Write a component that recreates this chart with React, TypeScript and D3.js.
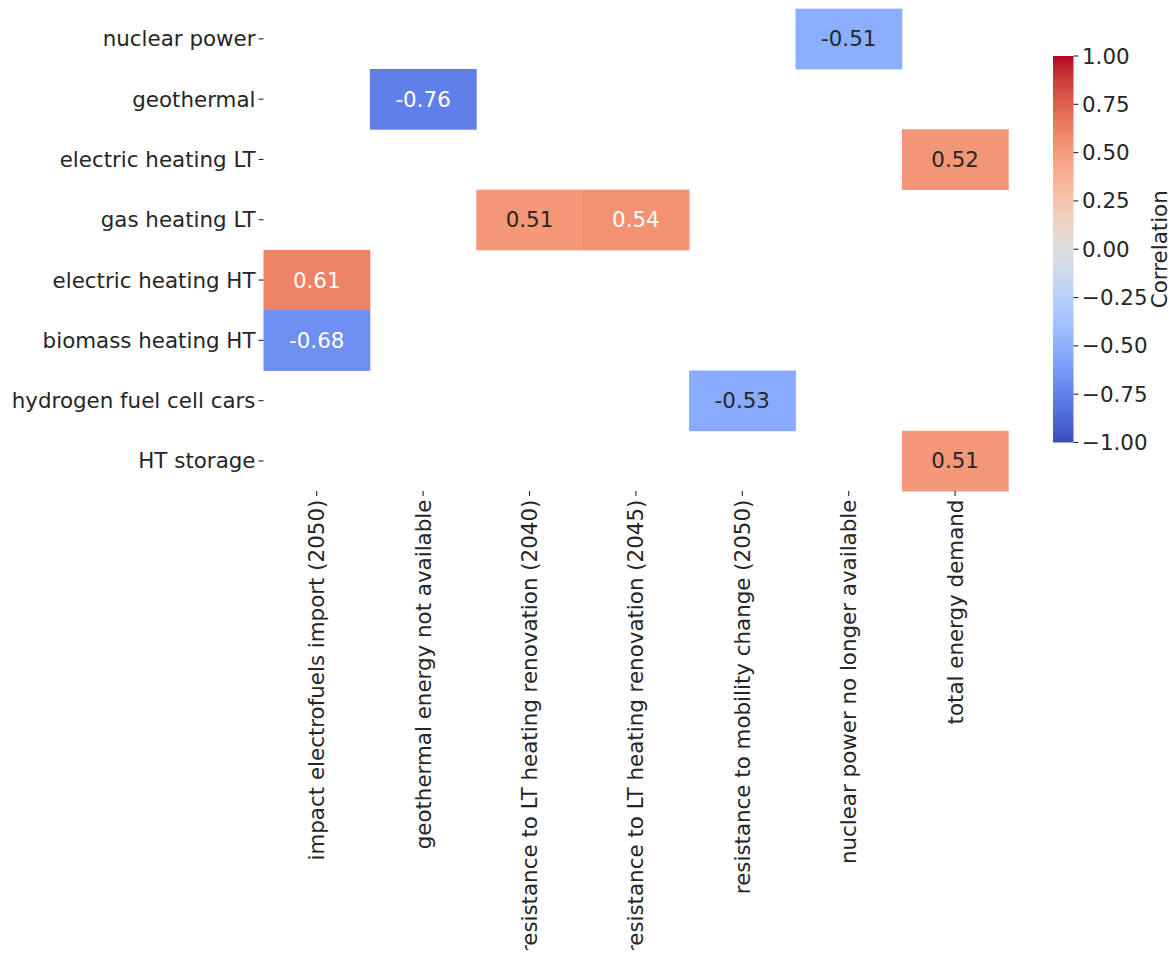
import React from "react";
import * as d3 from "d3";

// Row (y) and column (x) categories of the correlation matrix
const rowLabels = [
  "nuclear power",
  "geothermal",
  "electric heating LT",
  "gas heating LT",
  "electric heating HT",
  "biomass heating HT",
  "hydrogen fuel cell cars",
  "HT storage",
];

const colLabels = [
  "impact electrofuels import (2050)",
  "geothermal energy not available",
  "resistance to LT heating renovation (2040)",
  "resistance to LT heating renovation (2045)",
  "resistance to mobility change (2050)",
  "nuclear power no longer available",
  "total energy demand",
];

// Only strong correlations are shown; the rest of the matrix is empty
const cellRows = [
  "nuclear power",
  "geothermal",
  "electric heating LT",
  "gas heating LT",
  "gas heating LT",
  "electric heating HT",
  "biomass heating HT",
  "hydrogen fuel cell cars",
  "HT storage",
];
const cellCols = [
  "nuclear power no longer available",
  "geothermal energy not available",
  "total energy demand",
  "resistance to LT heating renovation (2040)",
  "resistance to LT heating renovation (2045)",
  "impact electrofuels import (2050)",
  "impact electrofuels import (2050)",
  "resistance to mobility change (2050)",
  "total energy demand",
];
const cellValues = [-0.51, -0.76, 0.52, 0.51, 0.54, 0.61, -0.68, -0.53, 0.51];

const colorbarTicks = [-1, -0.75, -0.5, -0.25, 0, 0.25, 0.5, 0.75, 1];

// Moreland cool-warm diverging map, 33 anchors
const coolwarmAnchors: [number, number, number][] = [
  [59, 76, 192], [68, 90, 204], [77, 104, 215], [87, 117, 225],
  [98, 130, 234], [108, 142, 241], [119, 154, 247], [130, 165, 251],
  [141, 176, 254], [152, 185, 255], [163, 194, 255], [174, 201, 253],
  [184, 208, 249], [194, 213, 244], [204, 217, 238], [213, 219, 230],
  [221, 221, 221], [229, 216, 209], [236, 211, 197], [241, 204, 185],
  [245, 196, 173], [247, 187, 160], [247, 177, 148], [247, 166, 135],
  [244, 154, 123], [241, 141, 111], [236, 127, 99], [229, 112, 88],
  [222, 96, 77], [213, 80, 66], [203, 62, 56], [192, 40, 47],
  [180, 4, 38],
];

function coolwarm(t: number): [number, number, number] {
  const n = coolwarmAnchors.length - 1;
  const x = Math.max(0, Math.min(1, t)) * n;
  const i = Math.min(n - 1, Math.floor(x));
  const f = x - i;
  const a = coolwarmAnchors[i];
  const b = coolwarmAnchors[i + 1];
  return [0, 1, 2].map((k) => a[k] + (b[k] - a[k]) * f) as [number, number, number];
}

const rgbStr = (c: [number, number, number]) =>
  d3.rgb(c[0], c[1], c[2]).formatHex();

function luminance(c: [number, number, number]) {
  const lin = c.map((v) => {
    const s = v / 255;
    return s <= 0.03928 ? s / 12.92 : Math.pow((s + 0.055) / 1.055, 2.4);
  });
  return 0.2126 * lin[0] + 0.7152 * lin[1] + 0.0722 * lin[2];
}

const FONT = "'DejaVu Sans', sans-serif";
const FS = 21.4;

export default function App() {
  const width = 1176;
  const height = 958;
  const left = 263.5;
  const top = 8.7;
  const cellW = 106.4;
  const cellH = 60.3;

  const x = d3
    .scaleBand<string>()
    .domain(colLabels)
    .range([left, left + cellW * colLabels.length]);
  const y = d3
    .scaleBand<string>()
    .domain(rowLabels)
    .range([top, top + cellH * rowLabels.length]);
  const norm = d3.scaleLinear().domain([-1, 1]).range([0, 1]);

  const bottom = top + cellH * rowLabels.length;

  // Colour bar geometry
  const cbX = 1053;
  const cbW = 20.5;
  const cbTop = 56;
  const cbBottom = 442.5;
  const cbScale = d3.scaleLinear().domain([-1, 1]).range([cbBottom, cbTop]);
  const gradStops = d3.range(0, 1.0001, 1 / 64);

  const fmtTick = (v: number) => {
    const s = Math.abs(v).toFixed(2);
    return v < 0 ? "\u2212" + s : s;
  };

  return (
    <svg width={width} height={height} style={{ display: "block", margin: "-8px" }}
      viewBox={`0 0 ${width} ${height}`}>
      <rect width={width} height={height} fill="#ffffff" />
      <defs>
        <linearGradient id="cbGrad" x1="0" y1="1" x2="0" y2="0">
          {gradStops.map((t, i) => (
            <stop key={i} offset={t} stopColor={rgbStr(coolwarm(t))} />
          ))}
        </linearGradient>
      </defs>

      {/* heatmap cells */}
      <g>
        {cellValues.map((v, i) => {
          const c = coolwarm(norm(v));
          const textColor = luminance(c) > 0.408 ? "#262626" : "#ffffff";
          const cx = (x(cellCols[i]) as number) + x.bandwidth() / 2;
          const cy = (y(cellRows[i]) as number) + y.bandwidth() / 2;
          return (
            <g key={i}>
              <rect
                x={x(cellCols[i])}
                y={y(cellRows[i])}
                width={x.bandwidth() + 0.4}
                height={y.bandwidth() + 0.4}
                fill={rgbStr(c)}
              />
              <text
                x={cx}
                y={cy}
                textAnchor="middle"
                dominantBaseline="central"
                fontFamily={FONT}
                fontSize={FS}
                fill={textColor}
              >
                {v.toFixed(2)}
              </text>
            </g>
          );
        })}
      </g>

      {/* y axis */}
      <g>
        {rowLabels.map((r) => {
          const cy = (y(r) as number) + y.bandwidth() / 2;
          return (
            <g key={r}>
              <line x1={left - 4.9} x2={left} y1={cy} y2={cy} stroke="#262626" strokeWidth={1.1} />
              <text
                x={left - 8}
                y={cy}
                textAnchor="end"
                dominantBaseline="central"
                fontFamily={FONT}
                fontSize={FS}
                fill="#262626"
              >
                {r}
              </text>
            </g>
          );
        })}
      </g>

      {/* x axis */}
      <g>
        {colLabels.map((c) => {
          const cx = (x(c) as number) + x.bandwidth() / 2;
          return (
            <g key={c}>
              <line x1={cx} x2={cx} y1={bottom} y2={bottom + 4.9} stroke="#262626" strokeWidth={1.1} />
              <text
                transform={`translate(${cx},${bottom + 8.5}) rotate(-90)`}
                textAnchor="end"
                dominantBaseline="central"
                fontFamily={FONT}
                fontSize={FS}
                fill="#262626"
              >
                {c}
              </text>
            </g>
          );
        })}
      </g>

      {/* colour bar */}
      <g>
        <rect x={cbX} y={cbTop} width={cbW} height={cbBottom - cbTop} fill="url(#cbGrad)" />
        {colorbarTicks.map((t) => (
          <g key={t}>
            <line
              x1={cbX + cbW}
              x2={cbX + cbW + 4.9}
              y1={cbScale(t)}
              y2={cbScale(t)}
              stroke="#262626"
              strokeWidth={1.1}
            />
            <text
              x={cbX + cbW + 8.5}
              y={cbScale(t)}
              dominantBaseline="central"
              fontFamily={FONT}
              fontSize={FS}
              fill="#262626"
            >
              {fmtTick(t)}
            </text>
          </g>
        ))}
        <text
          transform={`translate(1159,${(cbTop + cbBottom) / 2}) rotate(-90)`}
          textAnchor="middle"
          dominantBaseline="central"
          fontFamily={FONT}
          fontSize={FS}
          fill="#262626"
        >
          Correlation
        </text>
      </g>
    </svg>
  );
}
